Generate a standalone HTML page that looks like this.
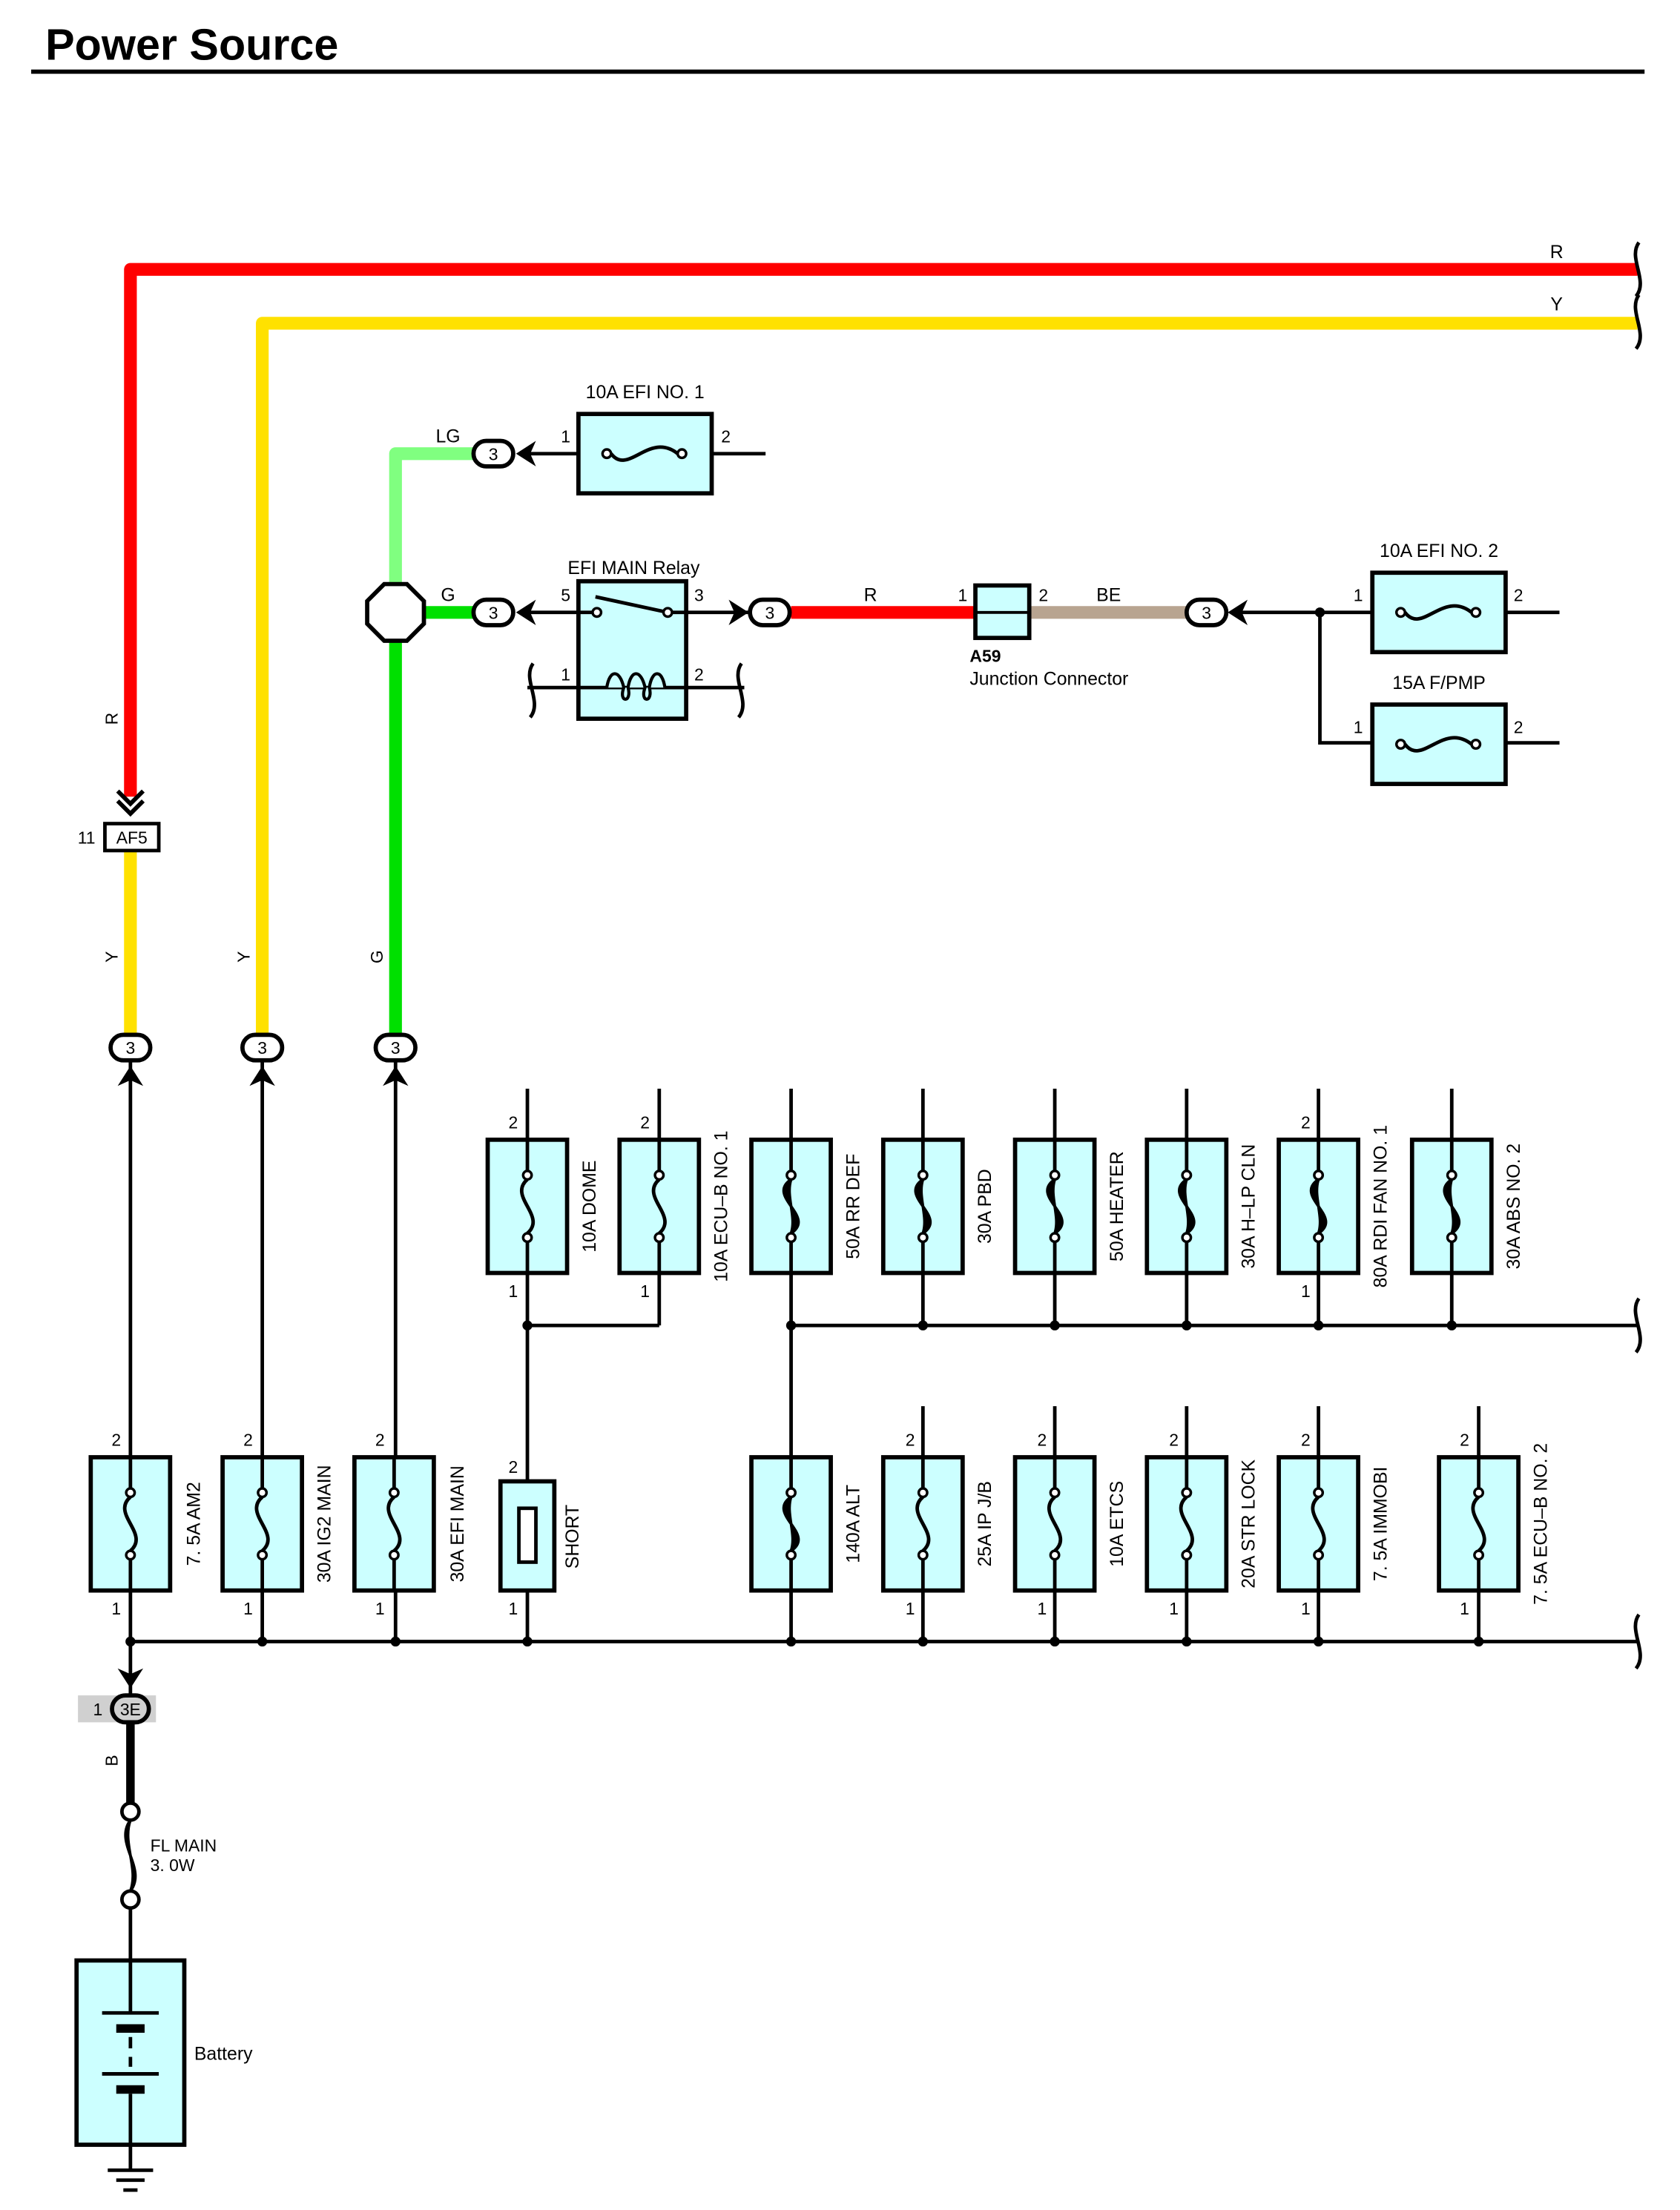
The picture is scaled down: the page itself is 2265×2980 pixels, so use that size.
<!DOCTYPE html>
<html><head><meta charset="utf-8"><style>
html,body{margin:0;padding:0;background:#fff;width:2265px;height:2980px;overflow:hidden}
svg{display:block}
text{font-family:"Liberation Sans",sans-serif;fill:#000}
</style></head><body>
<svg width="2265" height="2980" viewBox="0 0 1185 1559" xmlns="http://www.w3.org/2000/svg">
<defs>
<g id="fb"><line x1="0" y1="0" x2="0" y2="94" stroke="#000" stroke-width="2.5"/><rect x="-28" y="0" width="56" height="94" fill="#ccffff" stroke="#000" stroke-width="3"/><line x1="0" y1="0" x2="0" y2="25" stroke="#000" stroke-width="2.5"/><line x1="0" y1="69" x2="0" y2="94" stroke="#000" stroke-width="2.5"/></g>
<g id="vf"><use href="#fb"/><path d="M0,28 C-14,40 14,54 0,66" fill="none" stroke="#000" stroke-width="2.5"/><circle cx="0" cy="25" r="3" fill="#fff" stroke="#000" stroke-width="1.8"/><circle cx="0" cy="69" r="3" fill="#fff" stroke="#000" stroke-width="1.8"/></g>
<g id="hv"><use href="#fb"/><path d="M0,28 C-14,40 14,54 0,66 M0,28 C-9,40 9,54 0,66 M0,28 C-4,40 4,54 0,66 M0,28 C-18,40 18,54 0,66" fill="none" stroke="#000" stroke-width="2"/><circle cx="0" cy="25" r="3" fill="#fff" stroke="#000" stroke-width="1.8"/><circle cx="0" cy="69" r="3" fill="#fff" stroke="#000" stroke-width="1.8"/></g>
<g id="hf"><rect x="0" y="0" width="94" height="56" fill="#ccffff" stroke="#000" stroke-width="3"/><path d="M23,28 C35,44 50,12 70,28" fill="none" stroke="#000" stroke-width="2.5"/><circle cx="20" cy="28" r="3" fill="#fff" stroke="#000" stroke-width="1.8"/><circle cx="73" cy="28" r="3" fill="#fff" stroke="#000" stroke-width="1.8"/></g>
<g id="cn"><rect x="-14" y="-9" width="28" height="18" rx="9" fill="#fff" stroke="#000" stroke-width="3"/><text x="0" y="4.5" font-size="12" text-anchor="middle">3</text></g>
</defs>
<text x="32" y="42" font-size="31" font-weight="bold">Power Source</text>
<line x1="22" y1="50.5" x2="1160" y2="50.5" stroke="#000" stroke-width="3"/>
<g fill="none" stroke-linejoin="round">
<path d="M92,562 V190 H1155" stroke="#ff0000" stroke-width="9"/>
<path d="M185,732 V228 H1155" stroke="#ffe100" stroke-width="9"/>
<path d="M92,600 V732" stroke="#ffe100" stroke-width="9"/>
<path d="M335,320 H279 V412" stroke="#80ff80" stroke-width="9"/>
<path d="M279,452 V732" stroke="#00e000" stroke-width="9"/>
<path d="M298,432 H335" stroke="#00e000" stroke-width="9"/>
<path d="M558,432 H688" stroke="#ff0000" stroke-width="9"/>
<path d="M726,432 H838" stroke="#b8a490" stroke-width="9"/>
<path d="M1156,171 C1148,182 1163,198 1154,209 M1156,208 C1148,219 1163,235 1154,246 M1156,916 C1148,927 1163,943 1154,954 M1156,1139 C1148,1150 1163,1166 1154,1177 M376,468 C368,479 383,495 374,506 M523,468 C515,479 530,495 521,506" stroke="#000" stroke-width="2.5"/>
</g>
<text x="1098" y="182" font-size="13" text-anchor="middle">R</text>
<text x="1098" y="219" font-size="13" text-anchor="middle">Y</text>
<g font-size="12" text-anchor="middle">
<text transform="translate(83,507) rotate(-90)">R</text>
<text transform="translate(83,675) rotate(-90)">Y</text>
<text transform="translate(176,675) rotate(-90)">Y</text>
<text transform="translate(270,675) rotate(-90)">G</text>
<text transform="translate(83,1242) rotate(-90)">B</text>
</g>
<path d="M83,558 L92,567 L101,558 M83,565 L92,574 L101,565" fill="none" stroke="#000" stroke-width="3"/>
<rect x="74" y="581" width="38" height="19" fill="#fff" stroke="#000" stroke-width="2.5"/>
<text x="93" y="595" font-size="12" text-anchor="middle">AF5</text>
<text x="61" y="595" font-size="12" text-anchor="middle">11</text>
<polygon points="271,412 287,412 299,424 299,440 287,452 271,452 259,440 259,424" fill="#fff" stroke="#000" stroke-width="3"/>
<text x="316" y="312" font-size="13" text-anchor="middle">LG</text>
<text x="316" y="424" font-size="13" text-anchor="middle">G</text>
<line x1="370" y1="320" x2="540" y2="320" stroke="#000" stroke-width="2.5"/>
<use href="#hf" x="408" y="292"/>
<polygon points="364,320 378,311 374,320 378,329" fill="#000"/>
<use href="#cn" x="348" y="320"/>
<text x="455" y="281" font-size="13" text-anchor="middle">10A EFI NO. 1</text>
<text x="399" y="312" font-size="12" text-anchor="middle">1</text>
<text x="512" y="312" font-size="12" text-anchor="middle">2</text>
<line x1="370" y1="432" x2="530" y2="432" stroke="#000" stroke-width="2.5"/>
<line x1="372" y1="485" x2="525" y2="485" stroke="#000" stroke-width="2.5"/>
<rect x="408" y="410" width="76" height="97" fill="#ccffff" stroke="#000" stroke-width="3"/>
<line x1="421" y1="432" x2="408" y2="432" stroke="#000" stroke-width="2.5"/>
<line x1="471" y1="432" x2="484" y2="432" stroke="#000" stroke-width="2.5"/>
<line x1="420" y1="421" x2="471" y2="432" stroke="#000" stroke-width="2.5"/>
<circle cx="421" cy="432" r="3" fill="#fff" stroke="#000" stroke-width="1.8"/>
<circle cx="471" cy="432" r="3" fill="#fff" stroke="#000" stroke-width="1.8"/>
<line x1="408" y1="485" x2="484" y2="485" stroke="#000" stroke-width="2.5"/>
<path d="M428,485 C430,472 437,472 440,485 C436,496 446,496 443,485 C445,472 452,472 455,485 C451,496 461,496 458,485 C460,472 467,472 469,485" fill="#ccffff" stroke="#000" stroke-width="2.2"/>
<polygon points="364,432 378,423 374,432 378,441" fill="#000"/>
<polygon points="528,432 514,423 518,432 514,441" fill="#000"/>
<use href="#cn" x="348" y="432"/>
<use href="#cn" x="543" y="432"/>
<text x="447" y="405" font-size="13" text-anchor="middle">EFI MAIN Relay</text>
<text x="399" y="424" font-size="12" text-anchor="middle">5</text>
<text x="493" y="424" font-size="12" text-anchor="middle">3</text>
<text x="399" y="480" font-size="12" text-anchor="middle">1</text>
<text x="493" y="480" font-size="12" text-anchor="middle">2</text>
<text x="614" y="424" font-size="13" text-anchor="middle">R</text>
<rect x="688" y="413" width="38" height="37" fill="#ccffff" stroke="#000" stroke-width="3"/>
<line x1="688" y1="432" x2="726" y2="432" stroke="#000" stroke-width="2"/>
<text x="679" y="424" font-size="12" text-anchor="middle">1</text>
<text x="736" y="424" font-size="12" text-anchor="middle">2</text>
<text x="782" y="424" font-size="13" text-anchor="middle">BE</text>
<text x="684" y="467" font-size="12" font-weight="bold">A59</text>
<text x="684" y="483" font-size="13">Junction Connector</text>
<path d="M870,432 H1100 M931,432 V524 H1100" fill="none" stroke="#000" stroke-width="2.5"/>
<circle cx="931" cy="432" r="3.5" fill="#000"/>
<polygon points="866,432 880,423 876,432 880,441" fill="#000"/>
<use href="#cn" x="851" y="432"/>
<use href="#hf" x="968" y="404"/>
<use href="#hf" x="968" y="497"/>
<text x="1015" y="393" font-size="13" text-anchor="middle">10A EFI NO. 2</text>
<text x="1015" y="486" font-size="13" text-anchor="middle">15A F/PMP</text>
<text x="958" y="424" font-size="12" text-anchor="middle">1</text>
<text x="1071" y="424" font-size="12" text-anchor="middle">2</text>
<text x="958" y="517" font-size="12" text-anchor="middle">1</text>
<text x="1071" y="517" font-size="12" text-anchor="middle">2</text>
<g stroke="#000" stroke-width="2.5">
<line x1="92" y1="748" x2="92" y2="1200"/><line x1="185" y1="748" x2="185" y2="1158"/><line x1="279" y1="748" x2="279" y2="1158"/>
<line x1="372" y1="768" x2="372" y2="1158"/><line x1="465" y1="768" x2="465" y2="935"/>
<line x1="558" y1="768" x2="558" y2="1158"/><line x1="651" y1="768" x2="651" y2="935"/>
<line x1="744" y1="768" x2="744" y2="935"/><line x1="837" y1="768" x2="837" y2="935"/>
<line x1="930" y1="768" x2="930" y2="935"/><line x1="1024" y1="768" x2="1024" y2="935"/>
<line x1="651" y1="992" x2="651" y2="1158"/><line x1="744" y1="992" x2="744" y2="1158"/>
<line x1="837" y1="992" x2="837" y2="1158"/><line x1="930" y1="992" x2="930" y2="1158"/>
<line x1="1043" y1="992" x2="1043" y2="1158"/>
<line x1="372" y1="935" x2="465" y2="935"/><line x1="558" y1="935" x2="1155" y2="935"/>
<line x1="92" y1="1158" x2="1155" y2="1158"/>
</g>
<g fill="#000">
<polygon points="92,752 83,766 92,762 101,766"/><polygon points="185,752 176,766 185,762 194,766"/><polygon points="279,752 270,766 279,762 288,766"/>
<circle cx="372" cy="935" r="3.5"/><circle cx="558" cy="935" r="3.5"/><circle cx="651" cy="935" r="3.5"/><circle cx="744" cy="935" r="3.5"/><circle cx="837" cy="935" r="3.5"/><circle cx="930" cy="935" r="3.5"/><circle cx="1024" cy="935" r="3.5"/>
<circle cx="92" cy="1158" r="3.5"/><circle cx="185" cy="1158" r="3.5"/><circle cx="279" cy="1158" r="3.5"/><circle cx="372" cy="1158" r="3.5"/><circle cx="558" cy="1158" r="3.5"/><circle cx="651" cy="1158" r="3.5"/><circle cx="744" cy="1158" r="3.5"/><circle cx="837" cy="1158" r="3.5"/><circle cx="930" cy="1158" r="3.5"/><circle cx="1043" cy="1158" r="3.5"/>
</g>
<use href="#cn" x="92" y="739"/><use href="#cn" x="185" y="739"/><use href="#cn" x="279" y="739"/>
<use href="#vf" x="372" y="804"/><use href="#vf" x="465" y="804"/>
<use href="#hv" x="558" y="804"/><use href="#hv" x="651" y="804"/><use href="#hv" x="744" y="804"/><use href="#hv" x="837" y="804"/><use href="#hv" x="930" y="804"/><use href="#hv" x="1024" y="804"/>
<use href="#vf" x="92" y="1028"/><use href="#vf" x="185" y="1028"/><use href="#vf" x="278" y="1028"/>
<use href="#hv" x="558" y="1028"/><use href="#vf" x="651" y="1028"/><use href="#vf" x="744" y="1028"/><use href="#vf" x="837" y="1028"/><use href="#vf" x="930" y="1028"/><use href="#vf" x="1043" y="1028"/>
<rect x="353" y="1045" width="38" height="77" fill="#ccffff" stroke="#000" stroke-width="3"/>
<rect x="366" y="1064" width="12" height="38" fill="#fff" stroke="#000" stroke-width="2.5"/>
<g font-size="13" text-anchor="middle">
<text transform="translate(420,851) rotate(-90)">10A DOME</text>
<text transform="translate(513,851) rotate(-90)">10A ECU–B NO. 1</text>
<text transform="translate(606,851) rotate(-90)">50A RR DEF</text>
<text transform="translate(699,851) rotate(-90)">30A PBD</text>
<text transform="translate(792,851) rotate(-90)">50A HEATER</text>
<text transform="translate(885,851) rotate(-90)">30A H–LP CLN</text>
<text transform="translate(978,851) rotate(-90)">80A RDI FAN NO. 1</text>
<text transform="translate(1072,851) rotate(-90)">30A ABS NO. 2</text>
<text transform="translate(141,1075) rotate(-90)">7. 5A AM2</text>
<text transform="translate(233,1075) rotate(-90)">30A IG2 MAIN</text>
<text transform="translate(327,1075) rotate(-90)">30A EFI MAIN</text>
<text transform="translate(408,1084) rotate(-90)">SHORT</text>
<text transform="translate(606,1075) rotate(-90)">140A ALT</text>
<text transform="translate(699,1075) rotate(-90)">25A IP J/B</text>
<text transform="translate(792,1075) rotate(-90)">10A ETCS</text>
<text transform="translate(885,1075) rotate(-90)">20A STR LOCK</text>
<text transform="translate(978,1075) rotate(-90)">7. 5A IMMOBI</text>
<text transform="translate(1091,1075) rotate(-90)">7. 5A ECU–B NO. 2</text>
</g>
<g font-size="12" text-anchor="middle">
<text x="362" y="796">2</text><text x="455" y="796">2</text><text x="921" y="796">2</text>
<text x="362" y="915">1</text><text x="455" y="915">1</text><text x="921" y="915">1</text>
<text x="82" y="1020">2</text><text x="175" y="1020">2</text><text x="268" y="1020">2</text><text x="362" y="1039">2</text>
<text x="642" y="1020">2</text><text x="735" y="1020">2</text><text x="828" y="1020">2</text><text x="921" y="1020">2</text><text x="1033" y="1020">2</text>
<text x="82" y="1139">1</text><text x="175" y="1139">1</text><text x="268" y="1139">1</text><text x="362" y="1139">1</text>
<text x="642" y="1139">1</text><text x="735" y="1139">1</text><text x="828" y="1139">1</text><text x="921" y="1139">1</text><text x="1033" y="1139">1</text>
</g>
<polygon points="92,1191 83,1177 92,1181 101,1177" fill="#000"/>
<rect x="55" y="1196" width="55" height="19" fill="#d0d0d0"/>
<rect x="79" y="1196" width="26" height="19" rx="9.5" fill="#d0d0d0" stroke="#000" stroke-width="3"/>
<text x="92" y="1210" font-size="12" text-anchor="middle">3E</text>
<text x="69" y="1210" font-size="12" text-anchor="middle">1</text>
<line x1="92" y1="1215" x2="92" y2="1274" stroke="#000" stroke-width="6"/>
<path d="M92,1284 C80,1300 104,1318 92,1334 M92,1284 C86,1300 98,1318 92,1334 M92,1284 C84,1300 100,1318 92,1334" fill="none" stroke="#000" stroke-width="2"/>
<circle cx="92" cy="1278" r="6" fill="#fff" stroke="#000" stroke-width="2.5"/>
<circle cx="92" cy="1340" r="6" fill="#fff" stroke="#000" stroke-width="2.5"/>
<text x="106" y="1306" font-size="12">FL MAIN</text>
<text x="106" y="1320" font-size="12">3. 0W</text>
<line x1="92" y1="1346" x2="92" y2="1383" stroke="#000" stroke-width="2.5"/>
<rect x="54" y="1383" width="76" height="130" fill="#ccffff" stroke="#000" stroke-width="3"/>
<g stroke="#000">
<line x1="92" y1="1383" x2="92" y2="1420" stroke-width="2.5"/>
<line x1="72" y1="1420" x2="112" y2="1420" stroke-width="2.5"/>
<line x1="82" y1="1431" x2="102" y2="1431" stroke-width="6"/>
<line x1="92" y1="1437" x2="92" y2="1445" stroke-width="2.5"/>
<line x1="92" y1="1451" x2="92" y2="1458" stroke-width="2.5"/>
<line x1="72" y1="1463" x2="112" y2="1463" stroke-width="2.5"/>
<line x1="82" y1="1474" x2="102" y2="1474" stroke-width="6"/>
<line x1="92" y1="1477" x2="92" y2="1530" stroke-width="2.5"/>
<line x1="76" y1="1531" x2="108" y2="1531" stroke-width="2.5"/>
<line x1="82" y1="1538" x2="102" y2="1538" stroke-width="2.5"/>
<line x1="87" y1="1545" x2="97" y2="1545" stroke-width="2.5"/>
</g>
<text x="137" y="1453" font-size="13">Battery</text>
</svg>
</body></html>
